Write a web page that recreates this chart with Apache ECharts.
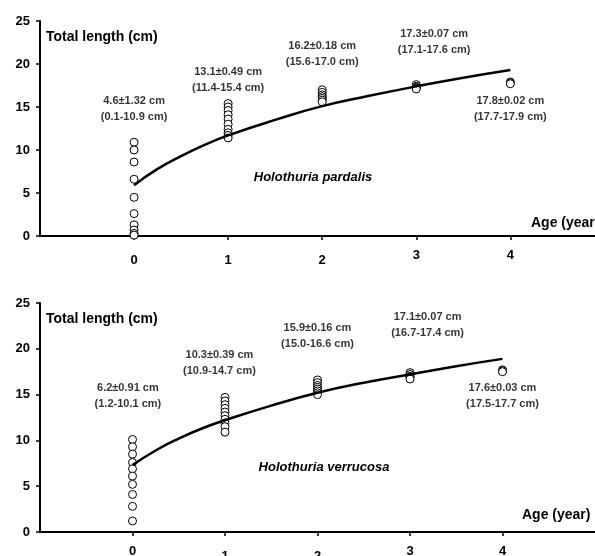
<!DOCTYPE html>
<html>
<head>
<meta charset="utf-8">
<script src="https://cdn.jsdelivr.net/npm/echarts@6/dist/echarts.min.js"></script>
<style>
    html, body { margin: 0; padding: 0; background: #fff; }
    #container { width: 595px; height: 556px; }
</style>
</head>
<body>
<div id="container"></div>
<script>
    // ages on the x axis
    var ages = [0, 1, 2, 3, 4];
    var yTicks = [0, 5, 10, 15, 20, 25];

    // Holothuria pardalis - individual lengths by age (cm)
    var pardalisLengths = [
        [10.9, 10.0, 8.6, 6.6, 4.5, 2.6, 1.3, 0.7, 0.3, 0.1],
        [15.4, 15.0, 14.6, 14.1, 13.6, 13.0, 12.4, 12.0, 11.7, 11.4],
        [17.0, 16.7, 16.4, 16.2, 16.0, 15.8, 15.6],
        [17.6, 17.4, 17.3, 17.2, 17.1],
        [17.9, 17.8, 17.7]
    ];
    // fitted growth curve
    var pardalisCurveAge = [0, 0.25, 0.5, 0.75, 1, 1.5, 2, 2.5, 3, 3.5, 4];
    var pardalisCurveLen = [5.9, 7.8, 9.3, 10.6, 11.7, 13.5, 15.1, 16.3, 17.4, 18.4, 19.3];
    var pardalisMeans = ['4.6±1.32 cm', '13.1±0.49 cm', '16.2±0.18 cm', '17.3±0.07 cm', '17.8±0.02 cm'];
    var pardalisRanges = ['(0.1-10.9 cm)', '(11.4-15.4 cm)', '(15.6-17.0 cm)', '(17.1-17.6 cm)', '(17.7-17.9 cm)'];
    var pardalisNoteX = [0, 1, 2, 3.19, 4];
    var pardalisNoteY = [14.8, 18.2, 21.2, 22.6, 14.8];

    // Holothuria verrucosa
    var verrucosaLengths = [
        [10.1, 9.3, 8.5, 7.6, 6.9, 6.1, 5.2, 4.1, 2.8, 1.2],
        [14.7, 14.3, 13.9, 13.5, 13.1, 12.7, 12.3, 11.9, 11.5, 10.9],
        [16.6, 16.3, 16.0, 15.8, 15.6, 15.4, 15.2, 15.0],
        [17.4, 17.2, 17.0, 16.9, 16.7],
        [17.7, 17.6, 17.5]
    ];
    var verrucosaCurveAge = [0, 0.25, 0.5, 0.75, 1, 1.5, 2, 2.5, 3, 3.5, 4];
    var verrucosaCurveLen = [7.3, 8.9, 10.2, 11.3, 12.2, 13.8, 15.2, 16.3, 17.2, 18.1, 18.9];
    var verrucosaMeans = ['6.2±0.91 cm', '10.3±0.39 cm', '15.9±0.16 cm', '17.1±0.07 cm', '17.6±0.03 cm'];
    var verrucosaRanges = ['(1.2-10.1 cm)', '(10.9-14.7 cm)', '(15.0-16.6 cm)', '(16.7-17.4 cm)', '(17.5-17.7 cm)'];
    var verrucosaNoteX = [-0.05, 0.94, 2, 3.19, 4];
    var verrucosaNoteY = [14.9, 18.4, 21.4, 22.6, 14.9];

    // x tick labels that sit a little lower in the original
    var topLowLabels = [0, 1, 2];
    var bottomLowLabels = [1, 2];

    var FONT = 'Arial, "Liberation Sans", sans-serif';

    function pointsOf(lengths) {
        var out = [];
        lengths.forEach(function (list, i) {
            list.forEach(function (v) { out.push([ages[i], v]); });
        });
        return out;
    }
    function curveOf(a, l) {
        return a.map(function (x, i) { return [x, l[i]]; });
    }
    function notesOf(xs, ys, means, ranges) {
        return xs.map(function (x, i) {
            return { value: [x, ys[i]], name: means[i] + '\n' + ranges[i] };
        });
    }

    function xAxisOf(gridIndex, max, lowList) {
        return {
            type: 'value', gridIndex: gridIndex, min: -1, max: max, interval: 1,
            splitLine: { show: false },
            axisLine: { onZero: false, lineStyle: { color: '#000', width: 2 } },
            axisTick: { length: 4, customValues: ages, lineStyle: { color: '#000', width: 1.5 } },
            axisLabel: {
                margin: 12,
                customValues: ages,
                formatter: function (v) {
                    return lowList.indexOf(v) >= 0 ? '{lo|' + v + '}' : '{hi|' + v + '}';
                },
                rich: {
                    hi: { fontFamily: FONT, fontSize: 13, fontWeight: 'bold', color: '#000', lineHeight: 14 },
                    lo: { fontFamily: FONT, fontSize: 13, fontWeight: 'bold', color: '#000', lineHeight: 24 }
                }
            }
        };
    }
    function yAxisOf(gridIndex) {
        return {
            type: 'value', gridIndex: gridIndex, position: 'left',
            min: yTicks[0], max: yTicks[yTicks.length - 1], interval: 5,
            splitLine: { show: false },
            axisLine: { show: true, onZero: false, lineStyle: { color: '#000', width: 2 } },
            axisTick: { show: true, length: 4, lineStyle: { color: '#000', width: 1.5 } },
            axisLabel: { margin: 10, color: '#000', fontFamily: FONT, fontSize: 13, fontWeight: 'bold' }
        };
    }

    var scatterStyle = {
        type: 'scatter', symbol: 'circle', symbolSize: 8, silent: true,
        itemStyle: { color: '#fff', borderColor: '#000', borderWidth: 1, opacity: 1 }
    };
    function scatterOf(idx, data) {
        return Object.assign({}, scatterStyle, { xAxisIndex: idx, yAxisIndex: idx, data: data, z: 2 });
    }
    function lineOf(idx, data) {
        return {
            type: 'line', xAxisIndex: idx, yAxisIndex: idx, data: data, smooth: true,
            symbol: 'none', silent: true, z: 3,
            lineStyle: { color: '#000', width: 2.5 }
        };
    }
    function notesSeries(idx, data) {
        return {
            type: 'scatter', xAxisIndex: idx, yAxisIndex: idx, data: data, symbolSize: 0, silent: true, z: 4,
            label: {
                show: true, position: 'inside', formatter: '{b}', color: '#000',
                fontFamily: FONT, fontSize: 11, fontWeight: 'bold', lineHeight: 16, align: 'center'
            }
        };
    }

    function text(str, x, y, opts) {
        return {
            type: 'text', x: x, y: y, silent: true,
            style: Object.assign({
                text: str, fill: '#000', font: 'bold 14px ' + FONT,
                textAlign: 'left', textVerticalAlign: 'middle'
            }, opts || {})
        };
    }

    var myChart = echarts.init(document.getElementById('container'), null, { renderer: 'canvas' });
    var option = {
        animation: false,
        backgroundColor: '#fff',
        grid: [
            { left: 40, top: 21, width: 555, height: 215, containLabel: false, outerBoundsMode: 'none' },
            { left: 40, top: 303, width: 555, height: 229, containLabel: false, outerBoundsMode: 'none' }
        ],
        xAxis: [xAxisOf(0, 4.9, topLowLabels), xAxisOf(1, 5, bottomLowLabels)],
        yAxis: [yAxisOf(0), yAxisOf(1)],
        series: [
            scatterOf(0, pointsOf(pardalisLengths)),
            lineOf(0, curveOf(pardalisCurveAge, pardalisCurveLen)),
            notesSeries(0, notesOf(pardalisNoteX, pardalisNoteY, pardalisMeans, pardalisRanges)),
            scatterOf(1, pointsOf(verrucosaLengths)),
            lineOf(1, curveOf(verrucosaCurveAge, verrucosaCurveLen)),
            notesSeries(1, notesOf(verrucosaNoteX, verrucosaNoteY, verrucosaMeans, verrucosaRanges))
        ],
        graphic: [
            text('Total length (cm)', 46, 37),
            text('Age (year)', 531, 223),
            text('Holothuria pardalis', 313, 177, { textAlign: 'center', font: 'italic bold 13px ' + FONT }),
            text('Total length (cm)', 46, 319),
            text('Age (year)', 522, 515),
            text('Holothuria verrucosa', 324, 467, { textAlign: 'center', font: 'italic bold 13px ' + FONT })
        ]
    };
    myChart.setOption(option);
</script>
</body>
</html>
